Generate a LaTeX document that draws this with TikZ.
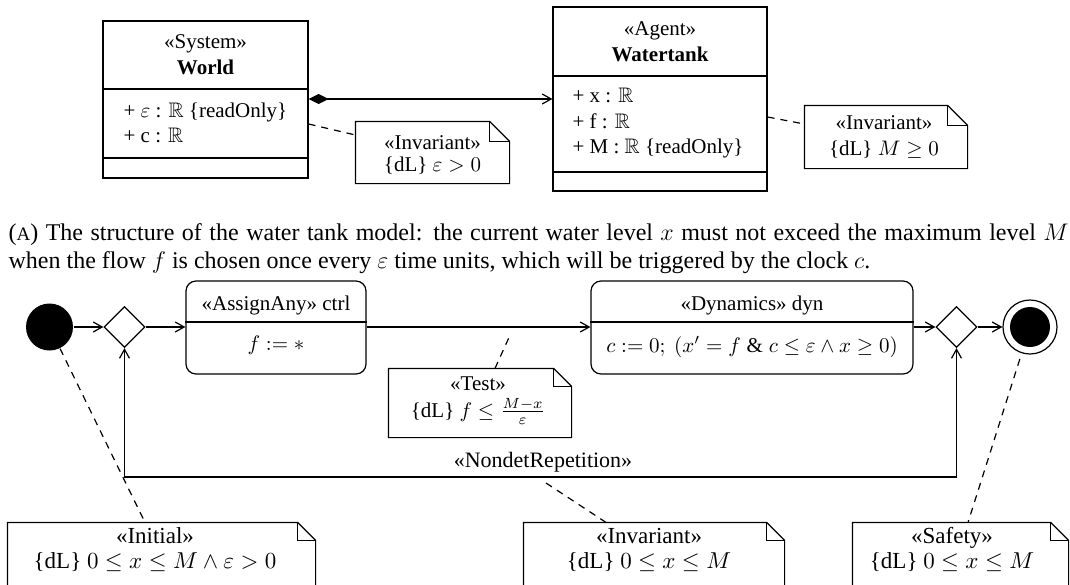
\RequirePackage{fix-cm}
\documentclass[tikz,border=0pt]{standalone}
\usepackage{fontspec}
\setmainfont{Liberation Serif}
\usepackage{amssymb}
\usetikzlibrary{arrows.meta,shapes.geometric}

\newcommand\figfont{\fontsize{10.5}{12.6}\selectfont}
\newcommand\bigfigfont{\fontsize{11.5}{13.8}\selectfont}
\newcommand\capfont{\fontsize{12}{14}\selectfont}

% UML note with a folded corner: name, centre, width, height, fold size
\newcommand\umlnote[5]{%
  \node[notearea, minimum width=#3, minimum height=#4] (#1) at (#2) {};
  \draw[noteline] (#1.north west) -- ([xshift=-#5]#1.north east)
    -- ([yshift=-#5]#1.north east) -- (#1.south east) -- (#1.south west) -- cycle;
  \draw[noteline] ([xshift=-#5]#1.north east) |- ([yshift=-#5]#1.north east);
}

\begin{document}
\begin{tikzpicture}[x=0.5pt,y=-0.5pt,line width=0.6pt,
  every node/.style={font=\figfont, inner sep=0pt},
  box/.style={draw, rectangle, inner sep=0pt},
  actbox/.style={draw, rectangle, rounded corners=5pt, inner sep=0pt},
  notearea/.style={rectangle, inner sep=0pt, draw=none},
  noteline/.style={line join=miter},
  lbl/.style={anchor=base},
  biglbl/.style={anchor=base, font=\bigfigfont},
  attr/.style={anchor=base west},
  decision/.style={diamond, draw, minimum width=20.5pt, minimum height=20.5pt},
  openhead/.tip={Straight Barb[length=4.5pt,width=5pt]},
  flow/.style={-openhead},
  notelink/.style={dash pattern=on 3.5pt off 3pt}]

\useasboundingbox (0,0) rectangle (1070,584);
\clip (0,0) rectangle (1070,584);

% ---------- class structure ----------
\node[box, minimum width=102.5pt, minimum height=78.5pt] (world) at (205.5,99.5) {};
\draw (world.west |- 0,89) -- (world.east |- 0,89);
\draw (world.west |- 0,158) -- (world.east |- 0,158);
\node[lbl] (world-st) at (205.5,48) {«System»};
\node[lbl] (world-name) at (205.5,74) {\textbf{World}};
\node[attr] (world-a1) at (123,117) {+ $\varepsilon$ : $\mathbb{R}$ \{readOnly\}};
\node[attr] (world-a2) at (123,142) {+ c : $\mathbb{R}$};

\node[box, minimum width=107pt, minimum height=92pt] (tank) at (660,99) {};
\draw (tank.west |- 0,76) -- (tank.east |- 0,76);
\draw (tank.west |- 0,172) -- (tank.east |- 0,172);
\node[lbl] (tank-st) at (660,35) {«Agent»};
\node[lbl] (tank-name) at (660,61) {\textbf{Watertank}};
\node[attr] (tank-a1) at (572,102) {+ x : $\mathbb{R}$};
\node[attr] (tank-a2) at (572,128) {+ f : $\mathbb{R}$};
\node[attr] (tank-a3) at (572,153) {+ M : $\mathbb{R}$ \{readOnly\}};

\draw[{Diamond[length=10pt,width=5pt]}-openhead]
  (world.east |- 0,99) -- (tank.west |- 0,99);

\umlnote{inv1}{432.5,152.5}{76.5pt}{30.5pt}{10pt}
\node[lbl] (inv1-st) at (432.5,149) {«Invariant»};
\node[lbl] (inv1-f) at (432.5,171) {\{dL\} $\varepsilon > 0$};
\draw[notelink] (world.east |- 0,124) -- (inv1.west |- 0,135);

\umlnote{inv2}{886,137}{81pt}{31pt}{10pt}
\node[lbl] (inv2-st) at (884,129) {«Invariant»};
\node[lbl] (inv2-f) at (884,155) {\{dL\}~$M \geq 0$};
\draw[notelink] (tank.east |- 0,117) -- (inv2.west |- 0,124);

% ---------- caption ----------
\node[anchor=base west] (caption) at (8,240.5) {\parbox[t]{530pt}{\capfont
  ({\fontsize{9.5}{14}\selectfont A}) The structure of the water tank model: the current
  water level $x$ must not exceed the maximum level $M$\linebreak
  when the flow $f$ is chosen once every $\varepsilon$ time units, which will be
  triggered by the clock $c$.}};

% ---------- activity ----------
\node[circle, fill, minimum size=23.5pt] (init) at (49.5,327) {};
\node[decision] (ldia) at (124.5,327) {};

\node[actbox, minimum width=90pt, minimum height=46.5pt] (ctrl) at (276,327.5) {};
\draw (ctrl.west |- 0,322) -- (ctrl.east |- 0,322);
\node[lbl] (ctrl-st) at (276,310) {«AssignAny» ctrl};
\node[lbl] (ctrl-f) at (276,350) {$f := *$};

\node[actbox, minimum width=161pt, minimum height=46.5pt] (dyn) at (752,327.5) {};
\draw (dyn.west |- 0,322) -- (dyn.east |- 0,322);
\node[lbl] (dyn-st) at (752,310) {«Dynamics» dyn};
\node[lbl] (dyn-f) at (752,352)
  {$c := 0;\ (x' = f \mathrel{\&} c \leq \varepsilon \land x \geq 0)$};

\node[decision] (rdia) at (956.5,327) {};
\node[circle, draw, minimum size=27pt] (final) at (1030,327) {};
\node[circle, fill, minimum size=20pt] (final-dot) at (1030,327) {};

\draw[flow] (init) -- (ldia);
\draw[flow] (ldia.east) -- (ldia.east -| ctrl.west);
\draw[flow] (ctrl.east |- ldia.east) -- (dyn.west |- ldia.east);
\draw[flow] (dyn.east |- rdia.west) -- (rdia.west);
\draw[flow] (rdia.east) -- (final);

\draw[openhead-openhead] (rdia.south) -- (rdia.south |- 0,477) -| (ldia.south);
\node[lbl, font=\fontsize{11}{13}\selectfont] (loop-label) at (543,467) {«NondetRepetition»};

\umlnote{test}{480,403}{91pt}{34pt}{9pt}
\node[lbl] (test-st) at (478,390) {«Test»};
\node[lbl] (test-f) at (478,417) {\{dL\}~$f \leq \frac{M-x}{\varepsilon}$};
\coordinate (test-tip) at (511,333);
\draw[notelink] (test.north -| 495,0) -- (test-tip);

% ---------- bottom notes ----------
\umlnote{initnote}{161.5,561.5}{153.5pt}{38.5pt}{9pt}
\node[biglbl] (initnote-st) at (155,543) {«Initial»};
\node[biglbl] (initnote-f) at (155,568) {\{dL\}~$0 \leq x \leq M \land \varepsilon > 0$};
\draw[notelink] (init) -- (initnote.north -| 145,0);

\umlnote{invnote}{654,561.5}{130pt}{38.5pt}{9pt}
\node[biglbl] (invnote-st) at (649,543) {«Invariant»};
\node[biglbl] (invnote-f) at (649,568) {\{dL\}~$0 \leq x \leq M$};
\coordinate (loop-tip) at (546,483);
\draw[notelink] (loop-tip) -- (invnote.north -| 606,0);

\umlnote{safenote}{960.5,561.5}{107.5pt}{38.5pt}{9pt}
\node[biglbl] (safenote-st) at (952,543) {«Safety»};
\node[biglbl] (safenote-f) at (952,568) {\{dL\}~$0 \leq x \leq M$};
\draw[notelink, shorten <=3pt] (final) -- (safenote.north -| 968,0);

\end{tikzpicture}
\end{document}
